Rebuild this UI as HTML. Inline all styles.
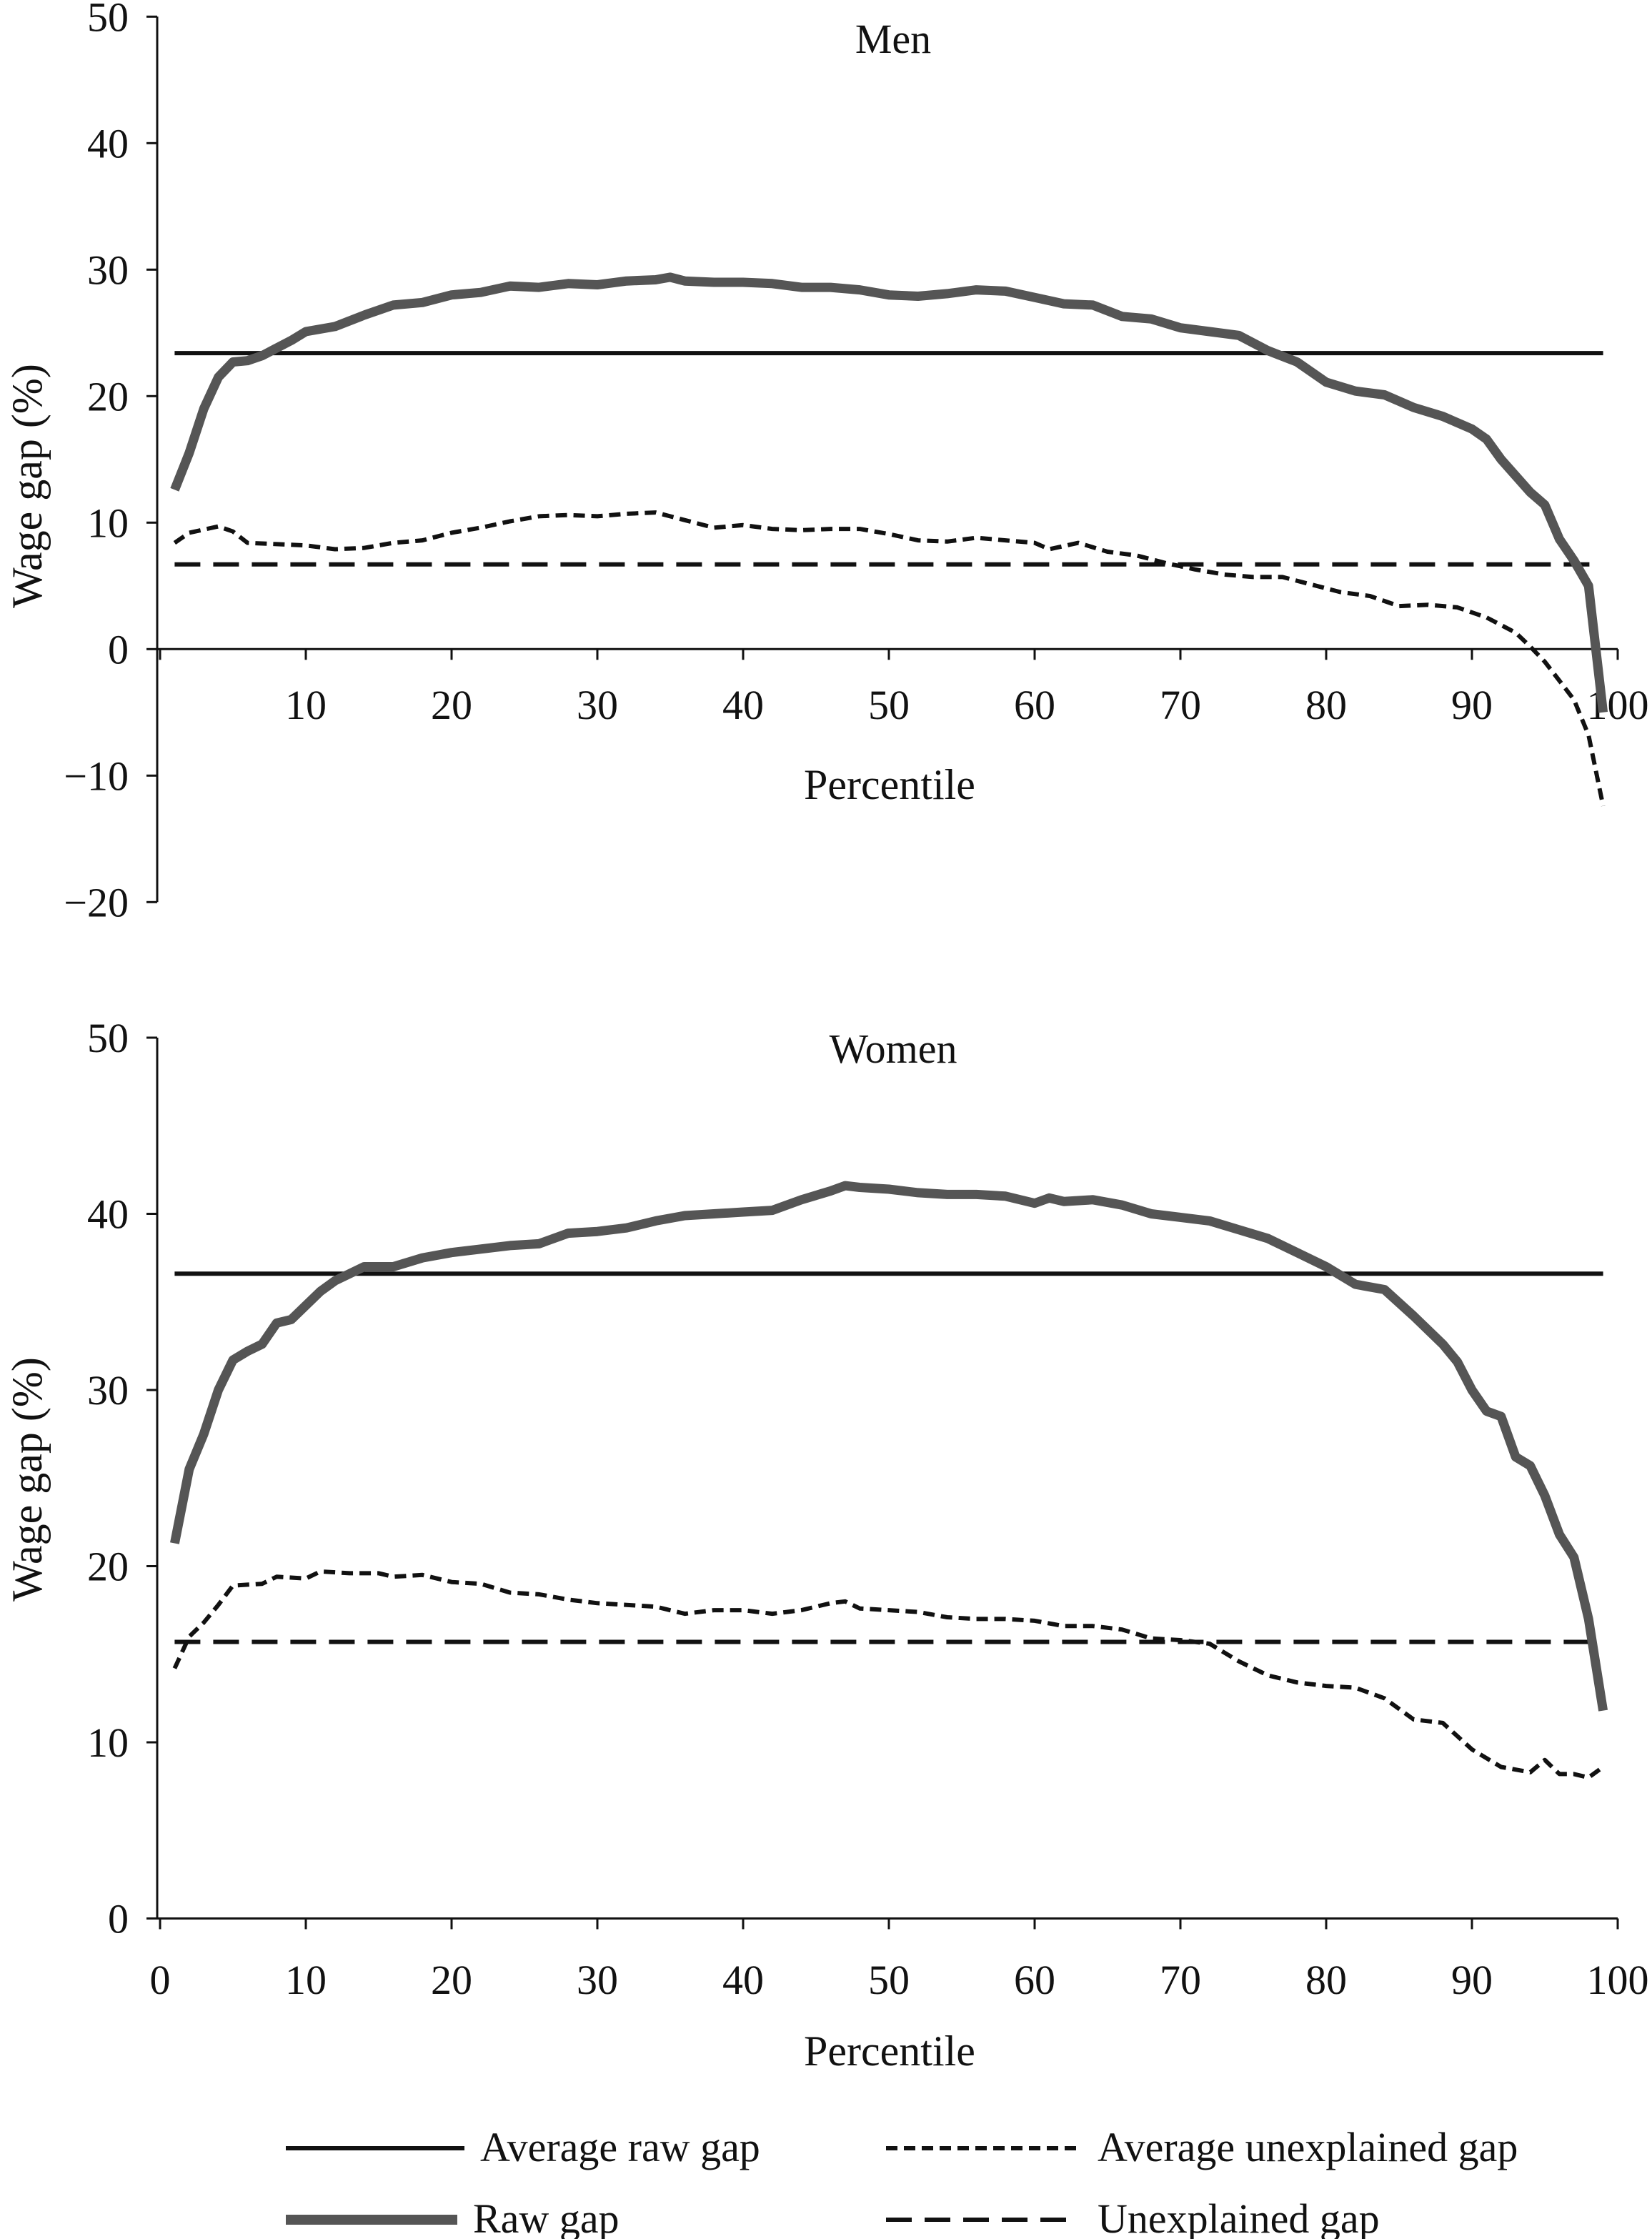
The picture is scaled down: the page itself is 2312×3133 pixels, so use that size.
<!DOCTYPE html>
<html><head><meta charset="utf-8"><style>
html,body{margin:0;padding:0;background:#fff;}
svg{display:block;}
text{font-family:"Liberation Serif",serif;fill:#111;}
</style></head><body>
<svg id="c" width="2312" height="3133" viewBox="0 0 2312 3133" xmlns="http://www.w3.org/2000/svg"></svg>
<script>
const percentiles=[];for(let i=1;i<=99;i++)percentiles.push(i);
const menRawX=[1,2,3,4,5,6,7,8,9,10,12,14,16,18,20,22,24,26,28,30,32,34,35,36,38,40,42,44,46,48,50,52,54,56,58,60,62,64,66,68,70,72,74,76,78,80,82,84,86,88,90,91,92,93,94,95,96,97,98,99];
const menRaw=[12.6,15.5,19,21.5,22.7,22.8,23.2,23.8,24.4,25.1,25.5,26.4,27.2,27.4,28,28.2,28.7,28.6,28.9,28.8,29.1,29.2,29.4,29.1,29,29,28.9,28.6,28.6,28.4,28,27.9,28.1,28.4,28.3,27.8,27.3,27.2,26.3,26.1,25.4,25.1,24.8,23.6,22.7,21.1,20.4,20.1,19.1,18.4,17.4,16.6,15,13.7,12.4,11.4,8.7,7,5,-5];
const menUnX=[1,2,4,5,6,8,10,12,14,16,18,20,22,24,26,28,30,32,34,36,38,40,42,44,46,48,50,52,54,56,58,60,61,63,65,67,69,71,73,75,77,79,81,83,85,87,89,91,93,94,95,96,97,98,99];
const menUn=[8.4,9.2,9.7,9.3,8.4,8.3,8.2,7.9,8.0,8.4,8.6,9.2,9.6,10.1,10.5,10.6,10.5,10.7,10.8,10.2,9.6,9.8,9.5,9.4,9.5,9.5,9.1,8.6,8.5,8.8,8.6,8.4,7.9,8.4,7.7,7.4,6.8,6.3,5.9,5.7,5.7,5.1,4.5,4.2,3.4,3.5,3.3,2.5,1.3,0.2,-1,-2.5,-4,-6.8,-12.4];
const menAvgRaw=23.4, menAvgUn=6.7;
const womRawX=[1,2,3,4,5,6,7,8,9,10,11,12,14,16,18,20,22,24,26,28,30,32,34,36,38,40,42,44,46,47,48,50,52,54,56,58,60,61,62,64,66,68,70,72,74,76,78,80,82,84,86,88,89,90,91,92,93,94,95,96,97,98,99];
const womRaw=[21.3,25.5,27.5,30,31.7,32.2,32.6,33.8,34,34.8,35.6,36.2,37,37,37.5,37.8,38,38.2,38.3,38.9,39,39.2,39.6,39.9,40,40.1,40.2,40.8,41.3,41.6,41.5,41.4,41.2,41.1,41.1,41,40.6,40.9,40.7,40.8,40.5,40,39.8,39.6,39.1,38.6,37.8,37,36,35.7,34.2,32.6,31.6,30,28.8,28.5,26.2,25.7,24,21.8,20.5,17,11.8];
const womUnX=[1,2,3,4,5,7,8,10,11,13,15,16,18,20,22,24,26,28,30,32,34,36,38,40,42,44,46,47,48,50,52,54,56,58,60,62,64,66,68,70,72,74,76,78,80,82,84,86,88,90,92,94,95,96,97,98,99];
const womUn=[14.2,16,16.8,17.8,18.9,19,19.4,19.3,19.7,19.6,19.6,19.4,19.5,19.1,19,18.5,18.4,18.1,17.9,17.8,17.7,17.3,17.5,17.5,17.3,17.5,17.9,18,17.6,17.5,17.4,17.1,17,17,16.9,16.6,16.6,16.4,15.9,15.8,15.6,14.6,13.8,13.4,13.2,13.1,12.5,11.3,11.1,9.6,8.6,8.3,9,8.2,8.2,8,8.6];
const womAvgRaw=36.6, womAvgUn=15.7;
const xTicks=[0,10,20,30,40,50,60,70,80,90,100];
const menYTicks=[50,40,30,20,10,0,-10,-20];
const womYTicks=[50,40,30,20,10,0];

const NS='http://www.w3.org/2000/svg';
const svg=document.getElementById('c');
function mk(tag,attrs,parent){const e=document.createElementNS(NS,tag);for(const k in attrs)e.setAttribute(k,attrs[k]);(parent||svg).appendChild(e);return e;}
const X0=224,X1=2264;
function sx(v){return X0+(X1-X0)*v/100;}

function panel(name,y50,per10,yTicks,rawX,raw,unX,un,avgRaw,avgUn,title,titleY,showZeroX,tickLabelY,pctY,yTitleY,axisBottom){
  const g=mk('g',{});
  
  
  const sy=v=>y50+(50-v)*per10/10;
  const ya=mk('line',{x1:220,x2:220,y1:y50,y2:sy(axisBottom),stroke:'#111','stroke-width':3},g);
  
  yTicks.forEach(t=>{
    const tk=mk('line',{x1:205,x2:220,y1:sy(t),y2:sy(t),stroke:'#111','stroke-width':3},g);
    
    const tl=mk('text',{x:180,y:sy(t)+20,'text-anchor':'end','font-size':58},g);
    tl.textContent=(t<0?'\u2212'+(-t):t);
    
  });
  const xa=mk('line',{x1:220,x2:X1,y1:sy(0),y2:sy(0),stroke:'#111','stroke-width':3},g);
  
  xTicks.forEach(t=>{
    const tk=mk('line',{x1:sx(t),x2:sx(t),y1:sy(0),y2:sy(0)+15,stroke:'#111','stroke-width':3},g);
    
    if(t===0&&!showZeroX)return;
    const tl=mk('text',{x:sx(t),y:tickLabelY,'text-anchor':'middle','font-size':58},g);
    tl.textContent=t;
    
  });
  const tt=mk('text',{x:1250,y:titleY,'text-anchor':'middle','font-size':58},g);
  tt.textContent=title;
  const pl=mk('text',{x:1245,y:pctY,'text-anchor':'middle','font-size':60},g);
  pl.textContent='Percentile';
  const yt=mk('text',{x:0,y:0,'text-anchor':'middle','font-size':60,transform:'translate(58,'+yTitleY+') rotate(-90)'},g);
  yt.textContent='Wage gap (%)';
  const l1=mk('line',{x1:sx(1),x2:sx(99),y1:sy(avgRaw),y2:sy(avgRaw),stroke:'#111','stroke-width':6},g);
  
  const l2=mk('line',{x1:sx(1),x2:sx(98.5),y1:sy(avgUn),y2:sy(avgUn),stroke:'#111','stroke-width':6,'stroke-dasharray':'36 18'},g);
  
  const pu=mk('path',{d:unX.map((x,i)=>(i?'L':'M')+sx(x).toFixed(1)+','+sy(un[i]).toFixed(1)).join(''),fill:'none',stroke:'#111','stroke-width':6,'stroke-dasharray':'16 9','stroke-linejoin':'round'},g);
  
  const pr=mk('path',{d:rawX.map((x,i)=>(i?'L':'M')+sx(x).toFixed(1)+','+sy(raw[i]).toFixed(1)).join(''),fill:'none',stroke:'#555','stroke-width':13,'stroke-linejoin':'round'},g);
  
}
panel('men',23.3,177,menYTicks,menRawX,menRaw,menUnX,menUn,menAvgRaw,menAvgUn,'Men',74,false,1006,1118,680,-20);
panel('women',1452,246.5,womYTicks,womRawX,womRaw,womUnX,womUn,womAvgRaw,womAvgUn,'Women',1487,true,2790,2890,2070,0);

const lg=mk('g',{});


const items=[
 {x1:400,x2:650,y:3006,tx:672,label:'Average raw gap',stroke:'#111',w:6,dash:''},
 {x1:1240,x2:1510,y:3006,tx:1536,label:'Average unexplained gap',stroke:'#111',w:6,dash:'16 9'},
 {x1:400,x2:640,y:3106,tx:662,label:'Raw gap',stroke:'#555',w:14,dash:''},
 {x1:1240,x2:1510,y:3106,tx:1536,label:'Unexplained gap',stroke:'#111',w:6,dash:'36 18'}];
items.forEach(it=>{
  const e=mk('g',{},lg);
  
  
  const a={x1:it.x1,x2:it.x2,y1:it.y,y2:it.y,stroke:it.stroke,'stroke-width':it.w};
  if(it.dash)a['stroke-dasharray']=it.dash;
  mk('line',a,e);
  const t=mk('text',{x:it.tx,y:it.y+18,'font-size':58},e);
  t.textContent=it.label;
});
</script>
</body></html>
